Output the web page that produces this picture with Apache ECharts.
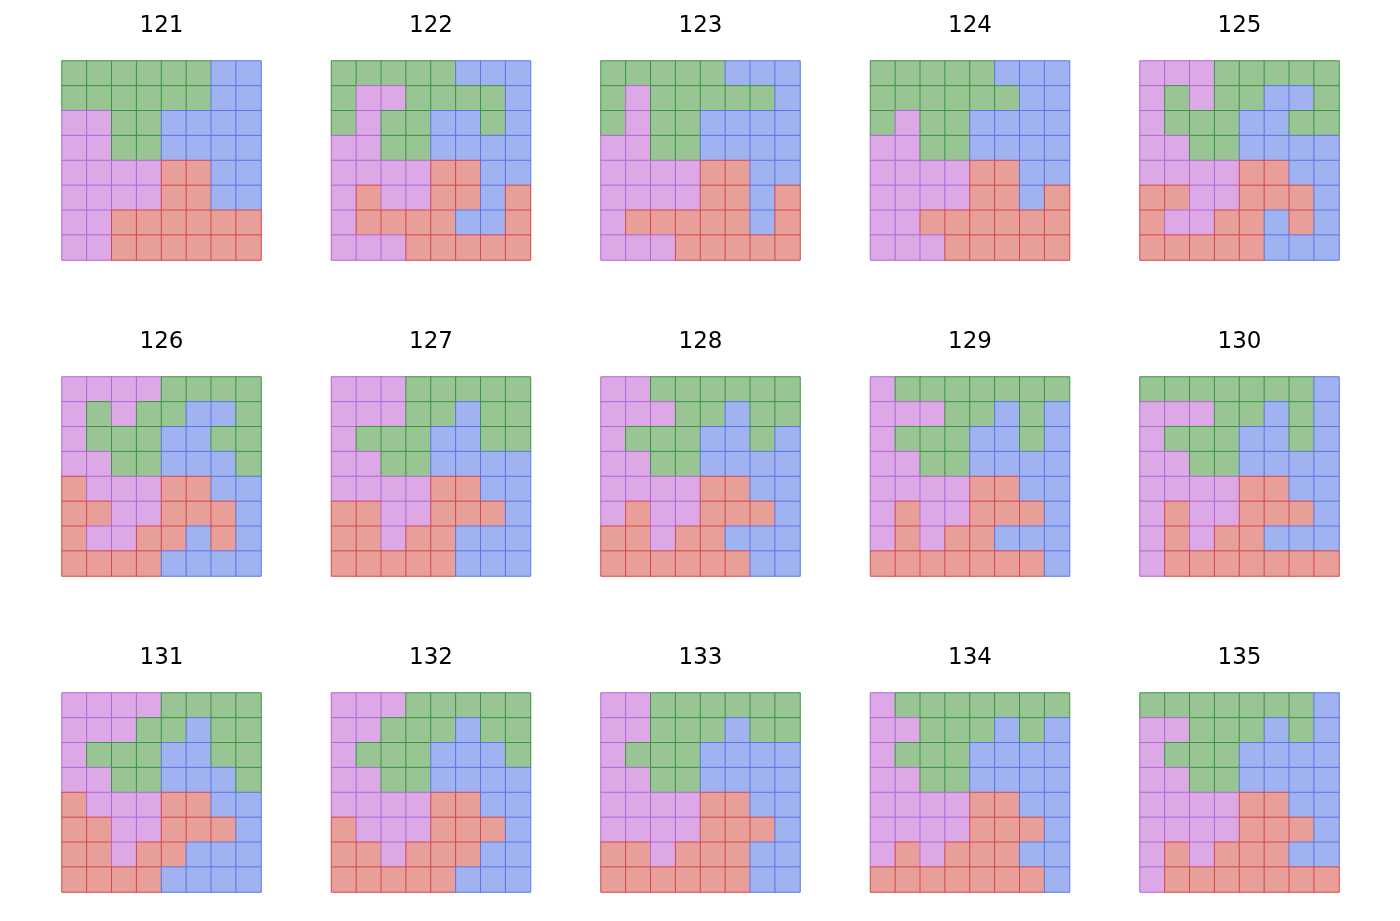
<!DOCTYPE html>
<html><head><meta charset="utf-8">
<script src="https://cdn.jsdelivr.net/npm/echarts@6/dist/echarts.min.js"></script>
<style>html,body{margin:0;padding:0;background:#fff}#c{width:1400px;height:921px}</style>
</head><body><div id="c"></div>
<script>
const labels = ['121','122','123','124','125','126','127','128','129','130','131','132','133','134','135'];
const grids = [
['GGGGGGBB','GGGGGGBB','PPGGBBBB','PPGGBBBB','PPPPRRBB','PPPPRRBB','PPRRRRRR','PPRRRRRR'],
['GGGGGBBB','GPPGGGGB','GPGGBBGB','PPGGBBBB','PPPPRRBB','PRPPRRBR','PRRRRBBR','PPPRRRRR'],
['GGGGGBBB','GPGGGGGB','GPGGBBBB','PPGGBBBB','PPPPRRBB','PPPPRRBR','PRRRRRBR','PPPRRRRR'],
['GGGGGBBB','GGGGGGBB','GPGGBBBB','PPGGBBBB','PPPPRRBB','PPPPRRBR','PPRRRRRR','PPPRRRRR'],
['PPPGGGGG','PGPGGBBG','PGGGBBGG','PPGGBBBB','PPPPRRBB','RRPPRRRB','RPPRRBRB','RRRRRBBB'],
['PPPPGGGG','PGPGGBBG','PGGGBBGG','PPGGBBBG','RPPPRRBB','RRPPRRRB','RPPRRBRB','RRRRBBBB'],
['PPPGGGGG','PPPGGBGG','PGGGBBGG','PPGGBBBB','PPPPRRBB','RRPPRRRB','RRPRRBBB','RRRRRBBB'],
['PPGGGGGG','PPPGGBGG','PGGGBBGB','PPGGBBBB','PPPPRRBB','PRPPRRRB','RRPRRBBB','RRRRRRBB'],
['PGGGGGGG','PPPGGBGB','PGGGBBGB','PPGGBBBB','PPPPRRBB','PRPPRRRB','PRPRRBBB','RRRRRRRB'],
['GGGGGGGB','PPPGGBGB','PGGGBBGB','PPGGBBBB','PPPPRRBB','PRPPRRRB','PRPRRBBB','PRRRRRRR'],
['PPPPGGGG','PPPGGBGG','PGGGBBGG','PPGGBBBG','RPPPRRBB','RRPPRRRB','RRPRRBBB','RRRRBBBB'],
['PPPGGGGG','PPGGGBGG','PGGGBBBG','PPGGBBBB','PPPPRRBB','RPPPRRRB','RRPRRRBB','RRRRRBBB'],
['PPGGGGGG','PPGGGBGG','PGGGBBBB','PPGGBBBB','PPPPRRBB','PPPPRRRB','RRPRRRBB','RRRRRRBB'],
['PGGGGGGG','PPGGGBGB','PGGGBBBB','PPGGBBBB','PPPPRRBB','PPPPRRRB','PRPRRRBB','RRRRRRRB'],
['GGGGGGGB','PPGGGBGB','PGGGBBBB','PPGGBBBB','PPPPRRBB','PPPPRRRB','PRPRRRBB','PRRRRRRR']
];
const fill = {G:'#99c494', B:'#a0b2f0', P:'#dca8e6', R:'#e89e99'};
const edge = {G:'#3d9440', B:'#5877e6', P:'#b566d6', R:'#d54848'};
const idx = [0,1,2,3,4,5,6,7];
const opt = {animation:false, title:[], grid:[], xAxis:[], yAxis:[], series:[]};
grids.forEach((g,k)=>{
  const c = k%5, r = Math.floor(k/5);
  const left = 62 + 269.5*c, top = 61 + 316*r;
  opt.grid.push({left:left, top:top, width:199, height:199});
  opt.title.push({text:labels[k], left:left+94.5, top:top-51, textAlign:'center',
    textStyle:{fontFamily:'DejaVu Sans', fontSize:23, fontWeight:'normal', color:'#000'}});
  opt.xAxis.push({type:'category', gridIndex:k, data:idx, show:false});
  opt.yAxis.push({type:'category', gridIndex:k, data:idx, inverse:true, show:false});
  const data = [];
  g.forEach((row,y)=>{ row.split('').forEach((ch,x)=>{
    data.push({value:[x,y,1], itemStyle:{color:fill[ch], borderColor:edge[ch], borderWidth:1}});
  });});
  opt.series.push({type:'heatmap', xAxisIndex:k, yAxisIndex:k, data:data, emphasis:{disabled:true}});
});
echarts.init(document.getElementById('c')).setOption(opt);
</script></body></html>
